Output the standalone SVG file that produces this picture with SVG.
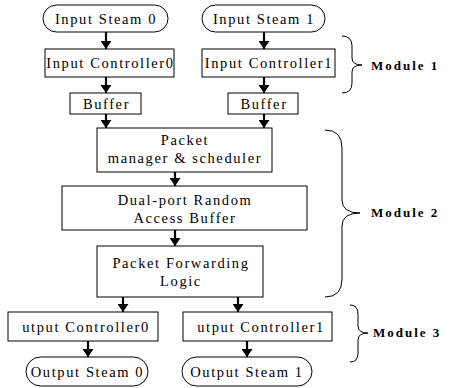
<svg xmlns="http://www.w3.org/2000/svg" width="450" height="388" viewBox="0 0 450 388">
  <style>
    .box { fill: #ffffff; stroke: #000000; stroke-width: 1; }
    .lbl { font-family: "Liberation Serif", "Times New Roman", serif; font-size: 14.5px; letter-spacing: 1.6px; fill: #000000; text-anchor: middle; }
    .mod { font-family: "Liberation Serif", "Times New Roman", serif; font-size: 13px; font-weight: bold; letter-spacing: 2px; fill: #000000; }
    .flow { stroke: #000000; stroke-width: 2.2; fill: none; marker-end: url(#head); }
    .brace { stroke: #000000; stroke-width: 1; fill: none; }
  </style>
  <defs>
    <marker id="head" viewBox="0 0 8 11" refX="8" refY="5.5" markerWidth="8" markerHeight="11" orient="auto" markerUnits="userSpaceOnUse">
      <path d="M0,0 L8,5.5 L0,11 z" fill="#000000"/>
    </marker>
  </defs>

  <rect width="450" height="388" fill="#ffffff"/>

  <!-- Module 1: inputs -->
  <g id="input-steam-0">
    <rect class="box" x="43" y="5" width="125" height="27" rx="13.5"/>
    <text class="lbl" x="106" y="23.5">Input Steam 0</text>
  </g>
  <g id="input-steam-1">
    <rect class="box" x="202" y="5" width="123" height="27" rx="13.5"/>
    <text class="lbl" x="264" y="23.5">Input Steam 1</text>
  </g>
  <g id="input-controller-0">
    <rect class="box" x="45" y="49" width="129" height="28"/>
    <text class="lbl" x="110.5" y="68">Input Controller0</text>
  </g>
  <g id="input-controller-1">
    <rect class="box" x="202" y="49" width="133" height="28"/>
    <text class="lbl" x="269" y="68">Input Controller1</text>
  </g>
  <g id="buffer-0">
    <rect class="box" x="70" y="93" width="71" height="21"/>
    <text class="lbl" x="106.5" y="108.5">Buffer</text>
  </g>
  <g id="buffer-1">
    <rect class="box" x="228" y="93" width="70" height="21"/>
    <text class="lbl" x="264" y="108.5">Buffer</text>
  </g>

  <!-- Module 2: shared packet path -->
  <g id="packet-manager">
    <rect class="box" x="97" y="128" width="175" height="44"/>
    <text class="lbl" x="185" y="145">Packet</text>
    <text class="lbl" x="185" y="162.5">manager &amp; scheduler</text>
  </g>
  <g id="dual-port-buffer">
    <rect class="box" x="62" y="186" width="245" height="44"/>
    <text class="lbl" x="185" y="205">Dual-port Random</text>
    <text class="lbl" x="185" y="222.5">Access Buffer</text>
  </g>
  <g id="packet-forwarding">
    <rect class="box" x="97" y="246" width="166" height="51"/>
    <text class="lbl" x="181" y="268">Packet Forwarding</text>
    <text class="lbl" x="181" y="286">Logic</text>
  </g>

  <!-- Module 3: outputs -->
  <g id="output-controller-0">
    <rect class="box" x="8" y="312" width="150" height="29"/>
    <text class="lbl" x="86" y="331.5">utput Controller0</text>
  </g>
  <g id="output-controller-1">
    <rect class="box" x="183" y="312" width="149" height="29"/>
    <text class="lbl" x="261" y="331.5">utput Controller1</text>
  </g>
  <g id="output-steam-0">
    <rect class="box" x="26" y="357" width="122" height="29" rx="14.5"/>
    <text class="lbl" x="87.5" y="376.5">Output Steam 0</text>
  </g>
  <g id="output-steam-1">
    <rect class="box" x="182" y="357" width="130" height="29" rx="14.5"/>
    <text class="lbl" x="247" y="376.5">Output Steam 1</text>
  </g>

  <!-- connectors -->
  <g id="connectors">
    <line class="flow" x1="106" y1="32" x2="106" y2="49"/>
    <line class="flow" x1="264" y1="32" x2="264" y2="49"/>
    <line class="flow" x1="106" y1="77" x2="106" y2="93"/>
    <line class="flow" x1="264" y1="77" x2="264" y2="93"/>
    <line class="flow" x1="106" y1="114" x2="106" y2="128"/>
    <line class="flow" x1="264" y1="114" x2="264" y2="128"/>
    <line class="flow" x1="175" y1="172" x2="175" y2="186"/>
    <line class="flow" x1="175" y1="230" x2="175" y2="246"/>
    <line class="flow" x1="123" y1="297" x2="123" y2="312"/>
    <line class="flow" x1="238" y1="297" x2="238" y2="312"/>
    <line class="flow" x1="88" y1="341" x2="88" y2="357"/>
    <line class="flow" x1="247" y1="341" x2="247" y2="357"/>
  </g>

  <!-- module braces and labels -->
  <g id="module-1">
    <path class="brace" d="M342,36 Q352,36 352,46 L352,58 Q352,65 362,65 Q352,65 352,72 L352,83 Q352,93 342,93"/>
    <text class="mod" x="371" y="70">Module 1</text>
  </g>
  <g id="module-2">
    <path class="brace" d="M325,130 Q342,130 342,148 L342,200 Q342,213 360,213 Q342,213 342,226 L342,279 Q342,297 325,297"/>
    <text class="mod" x="371" y="217">Module 2</text>
  </g>
  <g id="module-3">
    <path class="brace" d="M350,305 Q358,305 358,314 L358,326 Q358,333 368,333 Q358,333 358,340 L358,353 Q358,362 350,362"/>
    <text class="mod" x="373" y="337">Module 3</text>
  </g>
</svg>
